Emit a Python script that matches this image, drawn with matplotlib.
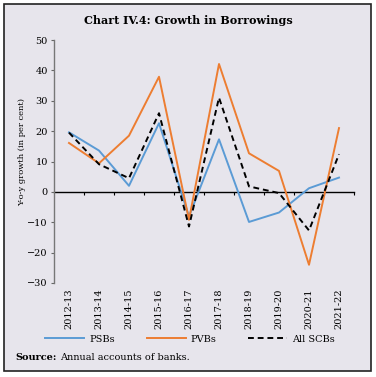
import matplotlib
matplotlib.use("Agg")
import matplotlib.pyplot as plt
from matplotlib.patches import Rectangle

years = ["2012-13", "2013-14", "2014-15", "2015-16", "2016-17",
         "2017-18", "2018-19", "2019-20", "2020-21", "2021-22"]
psbs = [19.6, 13.6, 2.0, 22.6, -8.1, 17.3, -9.9, -6.8, 1.2, 4.7]
pvbs = [16.1, 9.4, 18.5, 37.9, -9.2, 42.1, 12.7, 6.9, -24.0, 21.0]
all_scbs = [19.5, 9.1, 4.5, 25.9, -11.4, 31.0, 1.8, -0.4, -12.7, 12.4]
yticks = [-30, -20, -10, 0, 10, 20, 30, 40, 50]

plt.rcParams['font.family'] = ['DejaVu Serif']
W, H = 376, 377
fig = plt.figure(figsize=(W / 100, H / 100), dpi=100)
fig.patch.set_facecolor("white")
bg = "#e7e5ec"
fig.patches.append(Rectangle((4 / W, 6 / H), 367 / W, 367 / H, transform=fig.transFigure,
                             facecolor=bg, edgecolor="#222222", linewidth=1.2, zorder=-1))

ax = fig.add_axes([54 / W, 1 - 283 / H, 300 / W, 243 / H])
ax.set_facecolor(bg)
x = list(range(len(years)))
ax.plot(x, psbs, color="#5b9bd5", lw=1.4, label="PSBs")
ax.plot(x, pvbs, color="#ed7d31", lw=1.4, label="PVBs")
ax.plot(x, all_scbs, color="black", lw=1.4, ls=(0, (3, 2)), label="All SCBs")

ax.set_xlim(-0.5, len(years) - 0.5)
ax.set_ylim(-30, 50)
ax.set_yticks(yticks)
ax.tick_params(axis="y", labelsize=7, length=2.5, width=0.8, color="#666666", pad=2)
for s in ["top", "right", "bottom"]:
    ax.spines[s].set_visible(False)
ax.spines["left"].set_color("#777777")
ax.spines["left"].set_linewidth(1.0)
ax.set_xticks(x)
ax.set_xticklabels(years, rotation=90, fontsize=7)
ax.tick_params(axis="x", length=0, pad=4)

sec = ax.secondary_xaxis(30 / 80)
sec.set_xticks([i + 0.5 for i in x])
sec.set_xticklabels([])
sec.tick_params(axis="x", direction="out", length=2.5, width=0.8, color="black")
sec.spines["bottom"].set_linewidth(1.0)
sec.spines["bottom"].set_color("black")

fig.text(188 / W, 1 - 20 / H, "Chart IV.4: Growth in Borrowings", ha="center", va="center",
         fontsize=8, fontweight="bold")
fig.text(22 / W, 1 - 152 / H, "Y-o-y growth (in per cent)", rotation=90, ha="center",
         va="center", fontsize=6)

fig.legend(loc="center", bbox_to_anchor=(190 / W, 1 - 339 / H), ncol=3, frameon=False,
           fontsize=7, handlelength=4, handletextpad=0.5, columnspacing=3.3)

fig.text(15 / W, 1 - 358 / H, "Source:", ha="left", va="center", fontsize=7, fontweight="bold")
fig.text(60 / W, 1 - 358 / H, "Annual accounts of banks.", ha="left", va="center", fontsize=7)

fig.savefig("out.png", dpi=100, facecolor="white")
